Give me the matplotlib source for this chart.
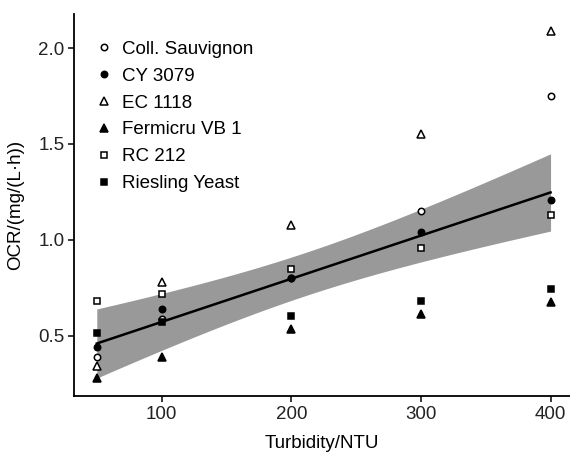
import numpy as np
import matplotlib
matplotlib.use("Agg")
import matplotlib.pyplot as plt

plt.rcParams['font.family'] = ['Liberation Sans', 'DejaVu Sans']

# data
turbidity = [50, 100, 200, 300, 400]
strains = ['Coll. Sauvignon', 'CY 3079', 'EC 1118', 'Fermicru VB 1', 'RC 212', 'Riesling Yeast']
coll_sauvignon = [0.39, 0.59, 0.80, 1.15, 1.75]
cy_3079 = [0.44, 0.64, 0.80, 1.04, 1.21]
ec_1118 = [0.345, 0.78, 1.08, 1.55, 2.09]
fermicru_vb1 = [0.28, 0.39, 0.535, 0.615, 0.675]
rc_212 = [0.68, 0.72, 0.85, 0.96, 1.13]
riesling = [0.515, 0.575, 0.605, 0.68, 0.745]

series = [coll_sauvignon, cy_3079, ec_1118, fermicru_vb1, rc_212, riesling]
markers = ['o', 'o', '^', '^', 's', 's']
filled = [False, True, False, True, False, True]
msizes = {'o': 4.6, '^': 5.4, 's': 4.6}

fig = plt.figure(figsize=(5.7, 4.53), dpi=100)
ax = fig.add_axes([0.130, 0.126, 0.870, 0.843])

# linear fit with 95% confidence band over all points
xs = np.tile(turbidity, len(series)).astype(float)
ys = np.concatenate(series)
slope, intercept = np.polyfit(xs, ys, 1)
n = len(xs)
resid = ys - (slope * xs + intercept)
s = np.sqrt(np.sum(resid ** 2) / (n - 2))
sxx = np.sum((xs - xs.mean()) ** 2)
xf = np.linspace(min(turbidity), max(turbidity), 100)
yf = slope * xf + intercept
half = 2.048 * s * np.sqrt(1 / n + (xf - xs.mean()) ** 2 / sxx)
ax.fill_between(xf, yf - half, yf + half, color='#999999', lw=0, zorder=1)
ax.plot(xf, yf, color='black', lw=1.8, zorder=2)

for name, vals, m, f in zip(strains, series, markers, filled):
    ax.plot(turbidity, vals, ls='none', marker=m, ms=msizes[m],
            mfc='black' if f else 'white', mec='black', mew=1.1,
            label=name, zorder=3)

ax.set_xlim(32.5, 415)
ax.set_ylim(0.1875, 2.177)
ax.set_xticks([100, 200, 300, 400])
ax.set_yticks([0.5, 1.0, 1.5, 2.0])
ax.set_yticklabels(['0.5', '1.0', '1.5', '2.0'])

for side in ['top', 'right']:
    ax.spines[side].set_visible(False)
for side in ['left', 'bottom']:
    ax.spines[side].set_linewidth(1.3)
ax.tick_params(direction='out', length=4, width=1.1, labelsize=13.5,
               labelcolor='#222222', pad=3)

ax.set_xlabel('Turbidity/NTU', fontsize=13.5, labelpad=9)
ax.set_ylabel('OCR/(mg/(L·h))', fontsize=13.5, labelpad=10)

ax.legend(loc='upper left', bbox_to_anchor=(0.027, 0.95), frameon=False,
          fontsize=13.5, handlelength=1.0, handletextpad=0.45,
          labelspacing=0.52, borderaxespad=0)

fig.savefig('out.png', dpi=100)
